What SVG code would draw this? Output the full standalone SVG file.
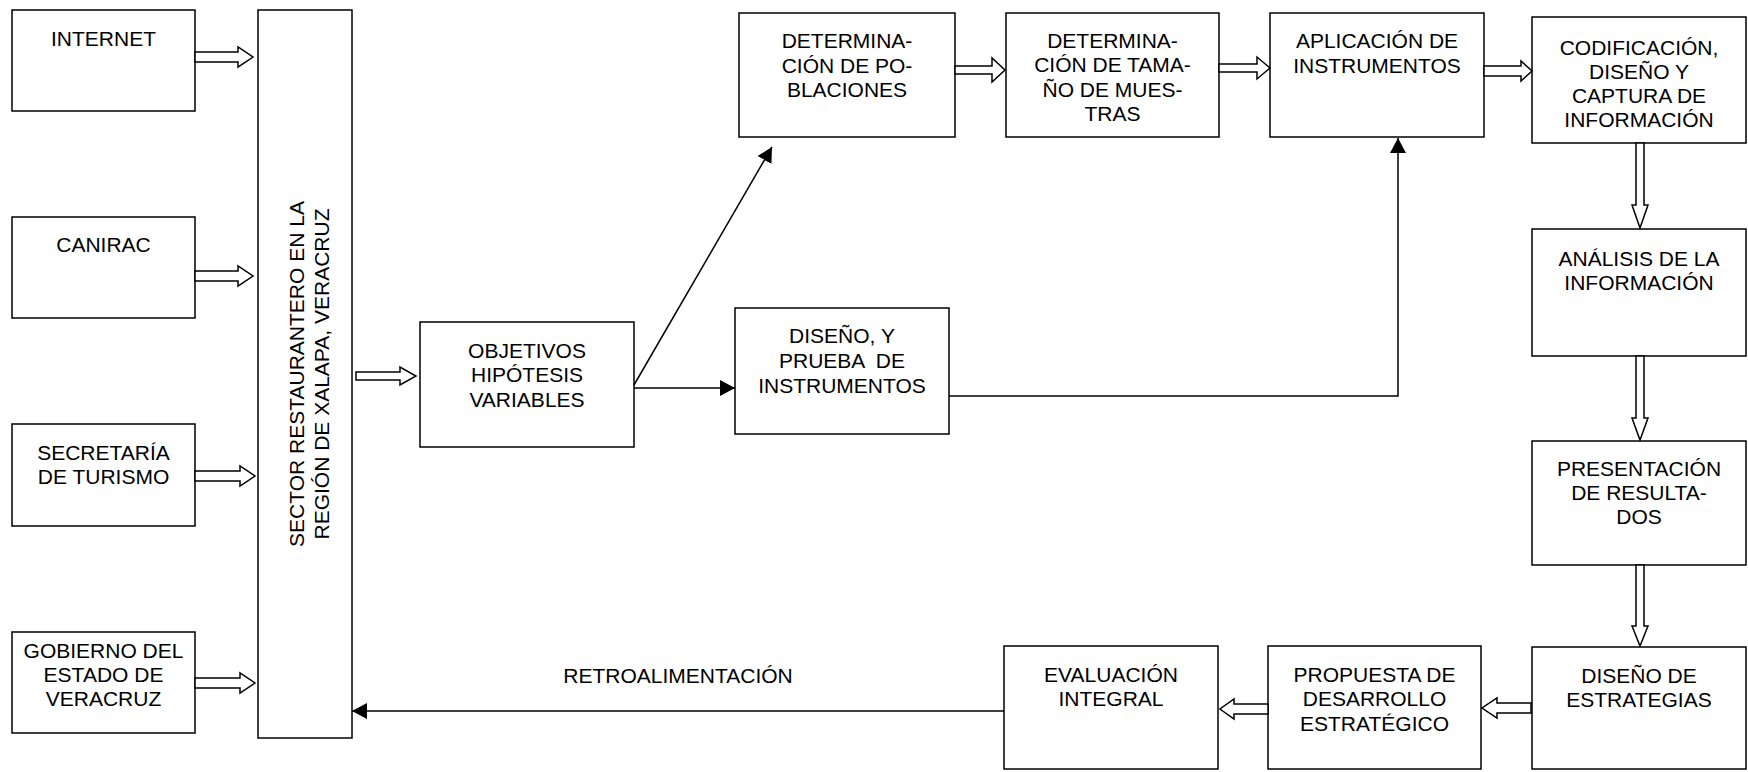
<svg xmlns="http://www.w3.org/2000/svg" width="1748" height="772" viewBox="0 0 1748 772">
<style>
rect.box{fill:#fff;stroke:#000;stroke-width:1.5}
text{font-family:"Liberation Sans",Arial,sans-serif;font-size:21px;fill:#000;text-anchor:middle}
.hollow{fill:#fff;stroke:#000;stroke-width:1.5;stroke-linejoin:miter}
.line{fill:none;stroke:#000;stroke-width:1.5}
</style>
<defs>
<marker id="ah" markerUnits="userSpaceOnUse" markerWidth="16" markerHeight="16" refX="15" refY="8" orient="auto">
<path d="M0,0 L15,8 L0,16 z" fill="#000"/>
</marker>
</defs>
<rect width="1748" height="772" fill="#fff"/>
<g id="internet"><rect class="box" x="12" y="10" width="183" height="101"/><text x="103.5" y="46">INTERNET</text></g>
<g id="canirac"><rect class="box" x="12" y="217" width="183" height="101"/><text x="103.5" y="252">CANIRAC</text></g>
<g id="secretaria"><rect class="box" x="12" y="424" width="183" height="102"/><text x="103.5" y="460">SECRETARÍA<tspan x="103.5" y="484">DE TURISMO</tspan></text></g>
<g id="gobierno"><rect class="box" x="12" y="632" width="183" height="101"/><text x="103.5" y="658">GOBIERNO DEL<tspan x="103.5" y="682">ESTADO DE</tspan><tspan x="103.5" y="706">VERACRUZ</tspan></text></g>
<g id="sector"><rect class="box" x="258" y="10" width="94" height="728"/><text transform="translate(304,374) rotate(-90)" x="0" y="0">SECTOR RESTAURANTERO EN LA<tspan x="0" y="25">REGIÓN DE XALAPA, VERACRUZ</tspan></text></g>
<g id="objetivos"><rect class="box" x="420" y="322" width="214" height="125"/><text x="527" y="358">OBJETIVOS<tspan x="527" y="382">HIPÓTESIS</tspan><tspan x="527" y="407">VARIABLES</tspan></text></g>
<g id="diseno-prueba"><rect class="box" x="735" y="308" width="214" height="126"/><text x="842" y="343" xml:space="preserve">DISEÑO, Y<tspan x="842" y="368">PRUEBA  DE</tspan><tspan x="842" y="393">INSTRUMENTOS</tspan></text></g>
<g id="det-poblaciones"><rect class="box" x="739" y="13" width="216" height="124"/><text x="847" y="48">DETERMINA-<tspan x="847" y="73">CIÓN DE PO-</tspan><tspan x="847" y="97">BLACIONES</tspan></text></g>
<g id="det-tamano"><rect class="box" x="1006" y="13" width="213" height="124"/><text x="1112.5" y="48">DETERMINA-<tspan x="1112.5" y="72">CIÓN DE TAMA-</tspan><tspan x="1112.5" y="97">ÑO DE MUES-</tspan><tspan x="1112.5" y="121">TRAS</tspan></text></g>
<g id="aplicacion"><rect class="box" x="1270" y="13" width="214" height="124"/><text x="1377" y="48">APLICACIÓN DE<tspan x="1377" y="73">INSTRUMENTOS</tspan></text></g>
<g id="codificacion"><rect class="box" x="1532" y="17" width="214" height="126"/><text x="1639" y="55">CODIFICACIÓN,<tspan x="1639" y="79">DISEÑO Y</tspan><tspan x="1639" y="103">CAPTURA DE</tspan><tspan x="1639" y="127">INFORMACIÓN</tspan></text></g>
<g id="analisis"><rect class="box" x="1532" y="229" width="214" height="127"/><text x="1639" y="266">ANÁLISIS DE LA<tspan x="1639" y="290">INFORMACIÓN</tspan></text></g>
<g id="presentacion"><rect class="box" x="1532" y="441" width="214" height="124"/><text x="1639" y="476">PRESENTACIÓN<tspan x="1639" y="500">DE RESULTA-</tspan><tspan x="1639" y="524">DOS</tspan></text></g>
<g id="diseno-estrategias"><rect class="box" x="1532" y="647" width="214" height="122"/><text x="1639" y="683">DISEÑO DE<tspan x="1639" y="707">ESTRATEGIAS</tspan></text></g>
<g id="propuesta"><rect class="box" x="1268" y="646" width="213" height="123"/><text x="1374.5" y="682">PROPUESTA DE<tspan x="1374.5" y="706">DESARROLLO</tspan><tspan x="1374.5" y="731">ESTRATÉGICO</tspan></text></g>
<g id="evaluacion"><rect class="box" x="1004" y="646" width="214" height="123"/><text x="1111" y="682">EVALUACIÓN<tspan x="1111" y="706">INTEGRAL</tspan></text></g>
<g id="connectors">
<polygon class="hollow" points="195,52 238,52 238,47 253,57 238,67 238,62 195,62"/>
<polygon class="hollow" points="195,271 238,271 238,266 253,276 238,286 238,281 195,281"/>
<polygon class="hollow" points="195,471 240,471 240,466 255,476 240,486 240,481 195,481"/>
<polygon class="hollow" points="195,678 240,678 240,673 255,683 240,693 240,688 195,688"/>
<polygon class="hollow" points="356,372 400,372 400,367 416,376 400,385 400,380 356,380"/>
<polygon class="hollow" points="955,66 992,66 992,58 1005,70 992,82 992,74 955,74"/>
<polygon class="hollow" points="1219,64 1257,64 1257,57 1270,68 1257,79 1257,72 1219,72"/>
<polygon class="hollow" points="1484,66 1521,66 1521,61 1532,71 1521,81 1521,76 1484,76"/>
<polygon class="hollow" points="1636,143 1636,205 1632,205 1640,228 1648,205 1644,205 1644,143"/>
<polygon class="hollow" points="1636,356 1636,418 1632,418 1640,440 1648,418 1644,418 1644,356"/>
<polygon class="hollow" points="1636,565 1636,626 1632,626 1640,646 1648,626 1644,626 1644,565"/>
<polygon class="hollow" points="1531,703 1497,703 1497,698 1482,708 1497,718 1497,713 1531,713"/>
<polygon class="hollow" points="1268,704 1234,704 1234,699 1220,709 1234,719 1234,714 1268,714"/>
<line class="line" x1="634" y1="385" x2="772" y2="147" marker-end="url(#ah)"/>
<line class="line" x1="634" y1="388" x2="735" y2="388" marker-end="url(#ah)"/>
<polyline class="line" points="949,396 1398,396 1398,138" marker-end="url(#ah)"/>
<line class="line" x1="1004" y1="711" x2="352" y2="711" marker-end="url(#ah)"/>
<text x="678" y="683">RETROALIMENTACIÓN</text>
</g>
</svg>
